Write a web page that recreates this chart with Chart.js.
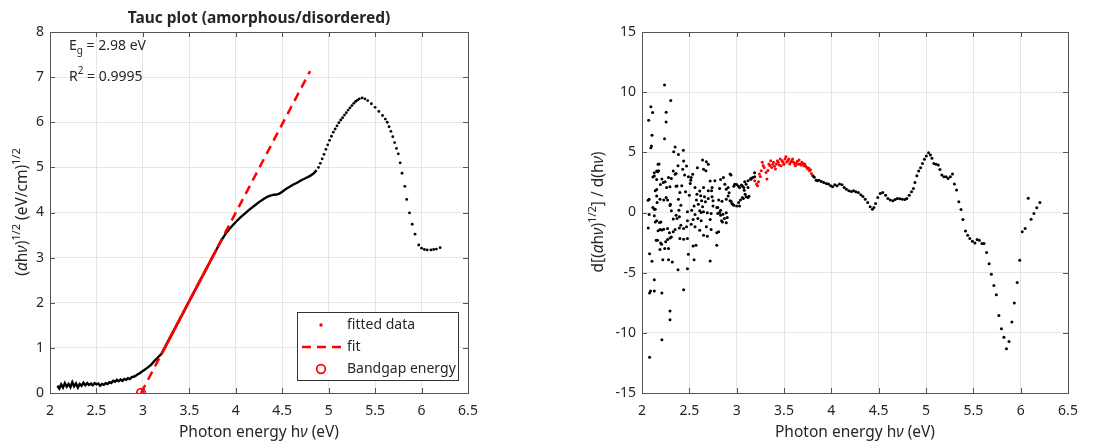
<!DOCTYPE html>
<html>
<head>
<meta charset="utf-8">
<script src="https://cdn.jsdelivr.net/npm/chart.js@4.4.1/dist/chart.umd.min.js"></script>
<style>
  body { margin: 0; background: #fff; width: 1109px; height: 445px; overflow: hidden; position: relative; }
  canvas { position: absolute; top: 0; }
  #tauc { left: 0; }
  #deriv { left: 555px; }
</style>
</head>
<body>
<canvas id="tauc" width="555" height="445"></canvas>
<canvas id="deriv" width="554" height="445"></canvas>
<script>
// ---- data ----
const energyTicks = [2, 2.5, 3, 3.5, 4, 4.5, 5, 5.5, 6, 6.5];
const taucTicks = [0, 1, 2, 3, 4, 5, 6, 7, 8];
const derivTicks = [-15, -10, -5, 0, 5, 10, 15];

const bandgap = 2.98;
const fitSlope = 3.92;
const fitEnd = 4.8;
const rSquared = '0.9995';
const legendLabels = ['fitted data', 'fit', 'Bandgap energy'];

// dense part of (ahv)^1/2 curve
const taucDense = [
  [2.08,0.16],[2.10,0.10],[2.12,0.19],[2.14,0.12],[2.16,0.22],[2.18,0.14],[2.20,0.20],[2.22,0.13],
  [2.24,0.24],[2.26,0.15],[2.28,0.21],[2.30,0.12],[2.32,0.20],[2.34,0.16],[2.36,0.23],[2.38,0.17],
  [2.40,0.22],[2.42,0.18],[2.44,0.21],[2.46,0.17],[2.48,0.22],[2.50,0.19],[2.52,0.21],[2.54,0.16],
  [2.56,0.20],[2.58,0.18],[2.60,0.22],[2.62,0.20],[2.64,0.24],[2.66,0.22],[2.68,0.27],[2.70,0.25],
  [2.72,0.29],[2.74,0.26],[2.76,0.30],[2.78,0.27],[2.80,0.31],[2.82,0.29],[2.84,0.33],[2.86,0.31],
  [2.88,0.35],[2.90,0.36],[2.92,0.38],[2.94,0.41],[2.96,0.43],[2.98,0.46],[3.00,0.49],[3.03,0.53],
  [3.06,0.58],[3.09,0.63],[3.12,0.70],[3.15,0.76],[3.18,0.83],[3.20,0.87],[3.30,1.26],[3.40,1.65],
  [3.50,2.04],[3.60,2.43],[3.70,2.82],[3.79,3.17],[3.85,3.40],[3.90,3.56],[3.95,3.68],[4.00,3.79],
  [4.05,3.89],[4.10,3.98],[4.15,4.07],[4.20,4.15],[4.25,4.23],[4.30,4.30],[4.35,4.36],[4.40,4.39],
  [4.44,4.40],[4.47,4.42],[4.50,4.46],[4.54,4.52],[4.58,4.57],[4.62,4.62],[4.66,4.66],[4.70,4.71],
  [4.75,4.76],[4.80,4.81],[4.84,4.87],[4.87,4.94]
];
// sparse dotted part
const taucSparse = [
  [4.89,5.00],[4.91,5.09],[4.93,5.19],[4.95,5.29],[4.97,5.40],[4.99,5.50],[5.01,5.60],[5.03,5.69],
  [5.05,5.78],[5.07,5.85],[5.09,5.92],[5.11,5.99],[5.13,6.05],[5.15,6.10],[5.17,6.16],[5.19,6.21],
  [5.21,6.27],[5.23,6.32],[5.25,6.37],[5.27,6.42],[5.29,6.46],[5.31,6.49],[5.33,6.52],[5.36,6.54],
  [5.39,6.52],[5.42,6.48],[5.46,6.41],[5.50,6.33],[5.54,6.24],[5.58,6.15],[5.61,6.07],[5.63,6.00],
  [5.65,5.90],[5.67,5.80],[5.69,5.68],[5.71,5.55],[5.73,5.42],[5.75,5.30],[5.77,5.10],[5.79,4.87],
  [5.82,4.58],[5.84,4.29],[5.87,3.99],[5.90,3.74],[5.93,3.52],[5.97,3.28],[6.00,3.21],[6.03,3.18],
  [6.06,3.17],[6.10,3.17],[6.13,3.18],[6.16,3.19],[6.20,3.22]
];
// fitted region
const taucFitted = [[3.20,0.86],[3.30,1.25],[3.40,1.64],[3.50,2.04],[3.60,2.43],[3.70,2.82],[3.79,3.17]];

// derivative, noisy low-energy part
const derivNoisy = [
  [2.238,10.59],[2.304,9.30],[2.094,8.79],[2.112,8.31],[2.255,8.34],[2.070,7.67],[2.255,7.53],[2.105,6.43],
  [2.238,6.12],[2.094,5.39],[2.100,5.52],[2.350,5.45],[2.437,5.18],[2.335,5.05],[2.385,4.83],[2.640,4.36],
  [2.680,4.22],[2.180,4.03],[2.380,3.89],[2.585,3.72],[2.175,3.47],[2.165,3.39],[2.675,3.47],[2.330,3.44],
  [2.130,3.03],[2.360,3.25],[2.535,3.17],[2.490,2.97],[2.450,3.11],[2.930,3.19],[2.210,2.78],[2.155,2.75],
  [2.245,2.56],[2.310,2.83],[2.515,2.69],[2.770,2.64],[2.830,2.75],[2.195,2.33],[2.155,1.92],[2.295,2.14],
  [2.360,2.19],[2.420,2.22],[2.610,1.78],[2.650,2.08],[2.700,1.81],[2.740,2.08],[2.820,2.00],[2.910,2.08],
  [2.920,1.64],[2.970,2.19],[3.000,2.33],[3.020,2.19],[3.050,2.28],[3.075,2.08],[3.085,2.56],[3.120,2.64],
  [3.150,2.83],[3.190,2.97],[2.075,1.11],[2.230,1.03],[2.270,1.03],[2.296,0.58],[2.115,0.42],[2.130,0.28],
  [2.410,0.61],[2.390,0.19],[2.460,1.72],[2.500,1.44],[2.620,1.39],[2.660,1.31],[2.700,1.17],[2.740,1.31],
  [2.575,1.03],[2.550,0.53],[2.810,1.03],[2.845,0.94],[2.890,1.11],[2.940,0.94],[2.950,0.75],[2.970,0.61],
  [3.000,0.53],[3.040,1.03],[3.070,1.17],[3.100,1.31],[3.130,1.36],[2.670,0.89],[2.640,0.47],[2.750,0.53],
  [2.800,0.42],[2.830,0.19],[2.890,-0.03],[2.855,-0.14],[2.075,-0.17],[2.130,-0.28],[2.360,-0.22],[2.395,-0.36],
  [2.480,0.06],[2.525,0.19],[2.560,-0.17],[2.625,0.00],[2.650,0.06],[2.690,-0.03],[2.730,-0.08],[2.800,-0.08],
  [2.066,-1.28],[2.190,-1.42],[2.230,-1.39],[2.270,-1.33],[2.140,-0.78],[2.200,-0.78],[2.370,-0.50],[2.410,-1.06],
  [2.395,-1.28],[2.440,-1.33],[2.470,-1.19],[2.480,-0.69],[2.520,-0.97],[2.540,-0.58],[2.590,-0.50],[2.625,-0.69],
  [2.560,-1.19],[2.610,-1.47],[2.680,-1.19],[2.650,-1.89],[2.690,-1.97],[2.730,-1.42],[2.720,-0.58],[2.790,-1.69],
  [2.810,-1.61],[2.830,-0.22],[2.870,-0.50],[2.900,-0.42],[2.850,-0.78],[2.890,-0.86],[2.290,-1.69],[2.330,-1.61],
  [2.350,-1.42],[2.310,-2.03],[2.150,-2.31],[2.164,-2.31],[2.197,-2.53],[2.207,-2.64],[2.250,-2.44],[2.270,-2.25],
  [2.296,-2.11],[2.400,-2.17],[2.440,-2.22],[2.480,-2.17],[2.540,-2.78],[2.570,-2.72],[2.790,-2.72],[2.080,-3.42],
  [2.105,-4.06],[2.190,-3.08],[2.240,-3.00],[2.280,-3.00],[2.220,-3.92],[2.280,-3.92],[2.320,-4.11],[2.380,-4.75],
  [2.480,-4.67],[2.490,-3.47],[2.550,-3.92],[2.720,-4.03],[2.130,-5.58],[2.080,-6.69],[2.090,-6.53],[2.130,-6.53],
  [2.210,-6.69],[2.440,-6.42],[2.296,-8.19],[2.296,-8.92],[2.210,-10.58],[2.080,-12.02],
  [2.890,1.93],[2.910,1.38],[2.930,0.97],[2.957,0.69],[2.980,2.35],[3.030,2.07],[3.060,2.21],[3.080,1.85],
  [3.100,2.35],[3.120,2.07],[3.150,2.76],[3.170,2.90],[3.190,3.31],[3.020,0.83],[3.030,0.55],[3.060,1.24],
  [3.090,1.52],[3.120,1.24],[2.940,3.12],
  [2.065,1.02],[2.115,2.96],[2.130,3.31],[2.155,3.45],[2.170,4.00],[2.140,1.80],[2.155,1.38],[2.190,1.10],
  [2.160,0.83],[2.140,0.28],[2.155,-0.69],[2.185,-0.83],[2.210,-1.46],[2.170,-1.52],[2.225,2.49],[2.260,2.07],
  [2.280,2.90],[2.255,1.24],[2.300,0.69],[2.310,0.14],[2.330,-0.55],[2.350,3.18],[2.370,2.21],[2.385,1.10],
  [2.400,1.66],[2.430,3.59],[2.440,4.28],[2.470,3.87],[2.510,2.40],[2.520,2.90],[2.560,2.07],[2.580,1.52],
  [2.595,0.69],[2.610,0.14],[2.630,0.97],[2.650,3.59],[2.700,4.00],[2.720,2.62],[2.735,1.80],[2.750,0.97],
  [2.790,0.41],[2.820,0.00],[2.840,-0.69],[2.860,2.90],[2.875,2.35]
];
// derivative, fitted region (red)
const derivFitted = [
  [3.19,2.64],[3.21,2.36],[3.22,2.22],[3.23,2.55],[3.24,3.19],[3.25,3.00],[3.26,3.47],[3.27,4.17],
  [3.28,3.90],[3.29,3.75],[3.31,3.33],[3.32,2.78],[3.33,3.50],[3.34,4.03],[3.35,3.90],[3.36,4.31],
  [3.37,3.75],[3.38,4.00],[3.39,4.17],[3.40,3.85],[3.41,3.61],[3.42,4.03],[3.43,4.30],[3.44,4.17],
  [3.45,3.95],[3.46,4.44],[3.47,3.89],[3.48,4.30],[3.49,4.17],[3.50,4.00],[3.51,4.44],[3.52,4.64],
  [3.53,4.20],[3.54,4.31],[3.55,4.45],[3.56,4.03],[3.57,4.17],[3.58,4.30],[3.59,4.44],[3.60,4.20],
  [3.61,4.08],[3.62,3.89],[3.63,4.10],[3.64,4.25],[3.65,4.00],[3.66,4.36],[3.67,4.03],[3.68,3.95],
  [3.69,4.17],[3.70,4.05],[3.71,3.89],[3.72,4.03],[3.73,3.85],[3.74,3.75],[3.75,3.61],[3.76,3.70],
  [3.77,3.47],[3.78,3.55],[3.79,3.25]
];
// derivative, smooth high-energy part
const derivSmooth = [
  [3.805,3.06],[3.820,2.92],[3.840,2.69],[3.854,2.64],[3.870,2.69],[3.894,2.58],[3.920,2.50],[3.947,2.42],
  [3.970,2.36],[3.993,2.22],[4.013,2.14],[4.036,2.31],[4.060,2.22],[4.086,2.36],[4.113,2.31],[4.136,2.08],
  [4.159,1.94],[4.185,1.81],[4.212,1.75],[4.235,1.81],[4.258,1.72],[4.285,1.67],[4.311,1.47],[4.334,1.33],
  [4.358,1.11],[4.384,0.83],[4.410,0.47],[4.434,0.28],[4.450,0.42],[4.467,0.75],[4.490,1.25],[4.517,1.58],
  [4.543,1.67],[4.573,1.44],[4.597,1.17],[4.623,1.03],[4.650,0.97],[4.673,1.08],[4.697,1.17],[4.723,1.14],
  [4.750,1.11],[4.777,1.08],[4.797,1.17],[4.823,1.44],[4.847,1.72],[4.867,2.00],[4.883,2.50],[4.903,3.06],
  [4.923,3.44],[4.943,3.72],[4.963,4.08],[4.983,4.42],[5.003,4.69],[5.027,4.97],[5.047,4.78],[5.063,4.50],
  [5.083,4.08],[5.107,4.00],[5.130,3.94],[5.147,3.58],[5.167,3.11],[5.190,2.97],[5.213,2.97],[5.233,2.83],
  [5.257,2.97],[5.280,3.19],[5.300,2.36],[5.323,1.86],[5.347,0.89],[5.370,0.25],[5.390,-0.58],[5.417,-1.53],
  [5.440,-1.89],[5.463,-2.17],[5.490,-2.39],[5.517,-2.53],[5.540,-2.25],[5.563,-2.31],[5.590,-2.58],[5.613,-2.58],
  [5.640,-3.33],[5.667,-4.25],[5.690,-5.14],[5.717,-6.06],[5.743,-6.83],[5.770,-8.56],[5.797,-9.67],[5.823,-10.36],
  [5.850,-11.33],[5.877,-10.72],[5.907,-9.11],[5.933,-7.53],[5.963,-5.81],[5.990,-3.97],[6.017,-1.61],[6.047,-1.33],
  [6.080,1.19],[6.110,-0.56],[6.140,-0.08],[6.170,0.39],[6.203,0.83]
];

// ---- styling ----
const FONT = "'Noto Sans', sans-serif";
const textColor = '#262626';
const frameColor = '#555';
const gridColor = '#e6e6e6';
Chart.defaults.font.family = FONT;
Chart.defaults.color = textColor;

const pts = arr => arr.map(p => ({ x: p[0], y: p[1] }));

function drawRich(ctx, parts, x, y, size, align, angle, bold) {
  ctx.save();
  ctx.translate(x, y);
  if (angle) ctx.rotate(angle);
  const fontFor = p => (p.it ? 'italic ' : '') + (bold ? 'bold ' : '') +
    ((p.sup || p.sub) ? Math.round(size * 0.72) : size) + 'px ' + FONT;
  let w = 0;
  parts.forEach(p => { ctx.font = fontFor(p); p.w = ctx.measureText(p.t).width; w += p.w; });
  let cx = align === 'center' ? -w / 2 : 0;
  ctx.textBaseline = 'middle';
  ctx.textAlign = 'left';
  ctx.fillStyle = textColor;
  parts.forEach(p => {
    ctx.font = fontFor(p);
    const dy = p.sup ? -size * 0.42 : p.sub ? size * 0.4 : 0;
    ctx.fillText(p.t, cx, dy);
    cx += p.w;
  });
  ctx.restore();
}

function drawLegend(ctx) {
  ctx.save();
  ctx.fillStyle = '#fff';
  ctx.fillRect(297, 312, 161, 68);
  ctx.strokeStyle = '#333';
  ctx.lineWidth = 1;
  ctx.strokeRect(297.5, 312.5, 161, 68);
  // fitted data marker
  ctx.fillStyle = 'red';
  ctx.beginPath(); ctx.arc(321, 325, 1.7, 0, Math.PI * 2); ctx.fill();
  // fit line
  ctx.strokeStyle = 'red'; ctx.lineWidth = 2.5; ctx.setLineDash([9, 6]);
  ctx.beginPath(); ctx.moveTo(302, 347); ctx.lineTo(342, 347); ctx.stroke();
  ctx.setLineDash([]);
  // bandgap marker
  ctx.lineWidth = 1.7;
  ctx.beginPath(); ctx.arc(321, 369, 4.3, 0, Math.PI * 2); ctx.stroke();
  ctx.fillStyle = textColor;
  ctx.font = '14px ' + FONT;
  ctx.textBaseline = 'middle';
  ctx.fillText(legendLabels[0], 347, 325);
  ctx.fillText(legendLabels[1], 347, 347);
  ctx.fillText(legendLabels[2], 347, 369);
  ctx.restore();
}

const framePlugin = {
  id: 'frame',
  afterDraw(chart, args, opts) {
    const { ctx, chartArea: a, scales } = chart;
    ctx.save();
    ctx.strokeStyle = frameColor;
    ctx.lineWidth = 1;
    ctx.strokeRect(a.left + 0.5, a.top + 0.5, a.right - a.left, a.bottom - a.top);
    ctx.beginPath();
    scales.x.ticks.forEach(t => {
      const px = Math.round(scales.x.getPixelForValue(t.value)) + 0.5;
      ctx.moveTo(px, a.bottom); ctx.lineTo(px, a.bottom - 5);
      ctx.moveTo(px, a.top); ctx.lineTo(px, a.top + 5);
    });
    scales.y.ticks.forEach(t => {
      const py = Math.round(scales.y.getPixelForValue(t.value)) + 0.5;
      ctx.moveTo(a.left, py); ctx.lineTo(a.left + 5, py);
      ctx.moveTo(a.right, py); ctx.lineTo(a.right - 5, py);
    });
    ctx.stroke();
    ctx.restore();
    (opts.texts || []).forEach(t => drawRich(ctx, t.parts, t.x, t.y, t.size, t.align, t.angle, t.bold));
    if (opts.legend) drawLegend(ctx);
  }
};

function axes(yTicks, yMin, yMax, yWidth) {
  return {
    x: {
      type: 'linear', min: 2, max: 6.5,
      afterBuildTicks: s => { s.ticks = energyTicks.map(v => ({ value: v })); },
      afterFit: s => { s.height = 52; },
      grid: { color: gridColor, drawTicks: false },
      border: { display: false },
      ticks: { padding: 10, autoSkip: false, maxRotation: 0, font: { size: 14 }, color: textColor, callback: v => String(v) }
    },
    y: {
      type: 'linear', min: yMin, max: yMax,
      afterBuildTicks: s => { s.ticks = yTicks.map(v => ({ value: v })); },
      afterFit: s => { s.width = yWidth; },
      grid: { color: gridColor, drawTicks: false },
      border: { display: false },
      ticks: { padding: 6, autoSkip: false, font: { size: 14 }, color: textColor, callback: v => String(v) }
    }
  };
}

const xLabel = [{ t: 'Photon energy h' }, { t: 'ν', it: true }, { t: ' (eV)' }];

new Chart(document.getElementById('tauc'), {
  type: 'scatter',
  data: {
    datasets: [
      { label: legendLabels[2], data: [{ x: bandgap, y: 0 }], pointRadius: 4.3, pointBorderWidth: 1.7,
        pointBorderColor: 'red', pointBackgroundColor: 'rgba(0,0,0,0)' },
      { label: legendLabels[1], data: [{ x: bandgap, y: 0 }, { x: fitEnd, y: fitSlope * (fitEnd - bandgap) }],
        showLine: true, borderColor: 'red', borderWidth: 2.5, borderDash: [9, 6], pointRadius: 0 },
      { label: legendLabels[0], data: pts(taucFitted), showLine: true, borderColor: 'red', borderWidth: 2.6, pointRadius: 0 },
      { data: pts(taucSparse), pointRadius: 1.4, pointBorderWidth: 0, pointBackgroundColor: '#000' },
      { data: pts(taucDense), showLine: true, borderColor: '#000', borderWidth: 2.4, pointRadius: 0 }
    ]
  },
  options: {
    responsive: false, animation: false, devicePixelRatio: 1,
    layout: { padding: { top: 32, right: 87, bottom: 0, left: 0 } },
    scales: axes(taucTicks, 0, 8, 50),
    plugins: {
      legend: { display: false }, tooltip: { enabled: false },
      frame: {
        legend: true,
        texts: [
          { parts: [{ t: 'Tauc plot (amorphous/disordered)' }], x: 259, y: 19, size: 15.5, align: 'center', bold: true },
          { parts: xLabel, x: 259, y: 433, size: 15.5, align: 'center' },
          { parts: [{ t: '(' }, { t: 'α', it: true }, { t: 'h' }, { t: 'ν', it: true }, { t: ')' }, { t: '1/2', sup: true },
                    { t: ' (eV/cm)' }, { t: '1/2', sup: true }], x: 23, y: 212, size: 15.5, align: 'center', angle: -Math.PI / 2 },
          { parts: [{ t: 'E' }, { t: 'g', sub: true }, { t: ' = ' + bandgap.toFixed(2) + ' eV' }], x: 69, y: 46, size: 14 },
          { parts: [{ t: 'R' }, { t: '2', sup: true }, { t: ' = ' + rSquared }], x: 69, y: 77, size: 14 }
        ]
      }
    }
  },
  plugins: [framePlugin]
});

new Chart(document.getElementById('deriv'), {
  type: 'scatter',
  data: {
    datasets: [
      { data: pts(derivFitted), pointRadius: 1.5, pointBorderWidth: 0, pointBackgroundColor: 'red' },
      { data: pts(derivSmooth), pointRadius: 1.5, pointBorderWidth: 0, pointBackgroundColor: '#000' },
      { data: pts(derivNoisy), pointRadius: 1.5, pointBorderWidth: 0, pointBackgroundColor: '#000' }
    ]
  },
  options: {
    responsive: false, animation: false, devicePixelRatio: 1,
    layout: { padding: { top: 32, right: 41, bottom: 0, left: 0 } },
    scales: axes(derivTicks, -15, 15, 87),
    plugins: {
      legend: { display: false }, tooltip: { enabled: false },
      frame: {
        texts: [
          { parts: xLabel, x: 300, y: 433, size: 15.5, align: 'center' },
          { parts: [{ t: 'd[(' }, { t: 'α', it: true }, { t: 'h' }, { t: 'ν', it: true }, { t: ')' }, { t: '1/2', sup: true },
                    { t: '] / d(h' }, { t: 'ν', it: true }, { t: ')' }], x: 44, y: 212, size: 15.5, align: 'center', angle: -Math.PI / 2 }
        ]
      }
    }
  },
  plugins: [framePlugin]
});
</script>
</body>
</html>
